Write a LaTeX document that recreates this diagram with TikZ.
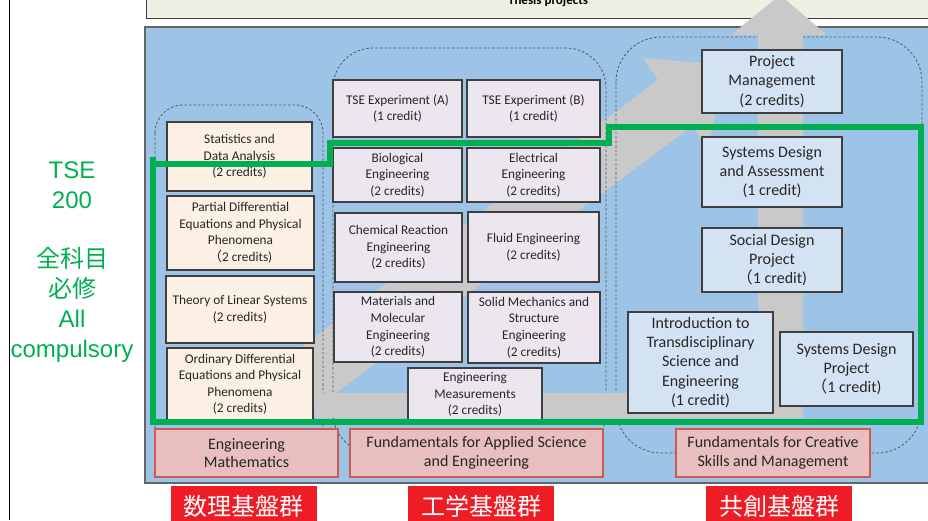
\documentclass[tikz,border=0pt]{standalone}
\usepackage{fontspec}
\setmainfont{Carlito}
\newfontfamily\jpfont{Noto Sans CJK JP}
\newfontfamily\arialfont{Liberation Sans}
\usepackage{xcolor}
\usetikzlibrary{positioning}
\definecolor{panelblue}{HTML}{9DC3E6}
\definecolor{topfill}{HTML}{EEF0E4}
\definecolor{arrowgray}{HTML}{C9C9C9}
\definecolor{mathfill}{HTML}{FCEFE3}
\definecolor{sciefill}{HTML}{ECE6EF}
\definecolor{mgmtfill}{HTML}{D4E3F3}
\definecolor{basefill}{HTML}{E8BEBE}
\definecolor{basered}{HTML}{CC5B55}
\definecolor{tagred}{HTML}{EE1C25}
\definecolor{tsegreen}{HTML}{00B050}
\definecolor{boxline}{HTML}{3F3F3F}
\definecolor{groupline}{HTML}{4E5866}
\tikzset{
    cellbox/.style={
        draw=boxline,
        line width=1.1pt,
        align=center,
        inner sep=0pt,
        text=black!85
    },
    mathbox/.style={cellbox, fill=mathfill, font=\fontsize{13.3}{16.5}\selectfont},
    sciebox/.style={cellbox, fill=sciefill, font=\fontsize{13.3}{16.6}\selectfont},
    mgmtbox/.style={cellbox, fill=mgmtfill, font=\fontsize{16}{19.3}\selectfont},
    basebox/.style={
        draw=basered,
        fill=basefill,
        line width=2.5pt,
        align=center,
        inner sep=0pt,
        text=black!85,
        font=\fontsize{16}{18.5}\selectfont
    },
    tagbox/.style={
        fill=tagred,
        text=white,
        minimum width=146pt,
        minimum height=40pt,
        inner sep=0pt,
        font=\jpfont\fontsize{24}{27}\selectfont
    },
    groupbox/.style={
        draw=groupline,
        line width=0.8pt,
        dash pattern=on 2.5pt off 2pt
    },
    tsetext/.style={
        text=tsegreen,
        align=center,
        font=\arialfont\fontsize{24}{30}\selectfont
    }
}

\begin{document}
\begin{tikzpicture}[x=1pt,y=-1pt]
        \useasboundingbox (0,0) rectangle (928,520);
        \clip (0,0) rectangle (928,520);
        \fill[white] (0,0) rectangle (928,520);

        % margin line
        \draw[line width=1pt] (9,0) -- (9,520);

        % thesis strip and main panel
        \draw[draw=boxline, line width=1pt, fill=topfill] (146,-10) rectangle (940,18);
        \node[anchor=base, font=\bfseries\fontsize{13}{15}\selectfont] (thesis) at (548,4) {Thesis projects};
        \draw[draw=boxline!80, line width=1.2pt, fill=panelblue] (145,27) rectangle (940,483);

        % diagonal gray arrow
        \fill[arrowgray] (300,420) -- (692,126) -- (708,148) -- (726,65) -- (643,58) -- (658,80) -- (300,348) -- cycle;

        % dashed groups
        \draw[groupbox, rounded corners=28pt] (155,105) rectangle (323,453);
        \draw[groupbox, rounded corners=40pt] (333,48) rectangle (606,453);
        \draw[groupbox, rounded corners=45pt] (616,37) rectangle (922,453);

        % L-shaped gray arrow
        \fill[arrowgray] (315,393) -- (758,393) -- (758,35) -- (731,35) -- (780,-5) -- (827,35) -- (803,35) -- (803,418) -- (315,418) -- cycle;

        % course boxes
        \foreach \nm/\xa/\ya/\xb/\yb/\txt in {
            stat/167/122/312/191/{Statistics and\\Data Analysis\\(2 credits)},
            pde/167/196/314/270/{Partial Differential\\Equations and Physical\\Phenomena\\{\jpfont （}2 credits)},
            linsys/166/276/314/343/{Theory of Linear Systems\\(2 credits)},
            ode/167/348/313/421/{Ordinary Differential\\Equations and Physical\\Phenomena\\(2 credits)}}
        {
            \node[mathbox, minimum width=\xb pt-\xa pt, minimum height=\yb pt-\ya pt] (\nm) at ({(\xa+\xb)/2},{(\ya+\yb)/2}) {\txt};
        }
        \foreach \nm/\xa/\ya/\xb/\yb/\txt in {
            expa/333/80/462/137/{TSE Experiment (A)\\(1 credit)},
            expb/467/80/600/137/{TSE Experiment (B)\\(1 credit)},
            bio/333/148/462/202/{Biological\\Engineering\\(2 credits)},
            elec/467/148/600/202/{Electrical\\Engineering\\(2 credits)},
            chem/335/213/462/282/{Chemical Reaction\\Engineering\\(2 credits)},
            fluid/468/212/599/282/{Fluid Engineering\\(2 credits)},
            matl/334/292/462/362/{Materials and\\Molecular\\Engineering\\(2 credits)},
            solid/468/292/600/363/{Solid Mechanics and\\Structure\\Engineering\\(2 credits)},
            meas/408/368/542/421/{Engineering\\Measurements\\(2 credits)}}
        {
            \node[sciebox, minimum width=\xb pt-\xa pt, minimum height=\yb pt-\ya pt] (\nm) at ({(\xa+\xb)/2},{(\ya+\yb)/2}) {\txt};
        }
        \foreach \nm/\xa/\ya/\xb/\yb/\txt in {
            pm/702/50/842/113/{Project\\Management\\(2 credits)},
            sda/702/137/842/207/{Systems Design\\and Assessment\\(1 credit)},
            social/702/228/842/292/{Social Design\\Project\\{\jpfont （}1 credit)},
            intro/628/312/773/413/{Introduction to\\Transdisciplinary\\Science and\\Engineering\\(1 credit)},
            sysdp/780/332/913/406/{Systems Design\\Project\\{\jpfont （}1 credit)}}
        {
            \node[mgmtbox, minimum width=\xb pt-\xa pt, minimum height=\yb pt-\ya pt] (\nm) at ({(\xa+\xb)/2},{(\ya+\yb)/2}) {\txt};
        }

        % compulsory outline
        \draw[tsegreen, line width=6.5pt] (153,157) -- (153,422) -- (921,422) -- (921,127) -- (609,127) -- (609,143) -- (330,143) -- (330,164) -- (150,164);

        % foundation groups
        \foreach \nm/\xa/\ya/\xb/\yb/\txt in {
            engmath/155/429/338/477/{Engineering\\Mathematics},
            appsci/350/429/603/477/{Fundamentals for Applied Science\\and Engineering},
            creative/676/429/870/477/{Fundamentals for Creative\\Skills and Management}}
        {
            \node[basebox, minimum width=\xb pt-\xa pt, minimum height=\yb pt-\ya pt] (\nm) at ({(\xa+\xb)/2},{(\ya+\yb)/2}) {\txt};
        }
        \node[tagbox, below=8pt of engmath, xshift=-3pt] (mathtag) {数理基盤群};
        \node[tagbox, below=8pt of appsci, xshift=4.5pt] (scietag) {工学基盤群};
        \node[tagbox, below=8pt of creative, xshift=6pt] (mgmttag) {共創基盤群};

        % TSE label
        \node[tsetext] (tsetag) at (72,185) {TSE\\200};
        \node[tsetext] (alltag) at (72,305) {{\jpfont 全科目}\\{\jpfont 必修}\\All\\compulsory};
\end{tikzpicture}
\end{document}
